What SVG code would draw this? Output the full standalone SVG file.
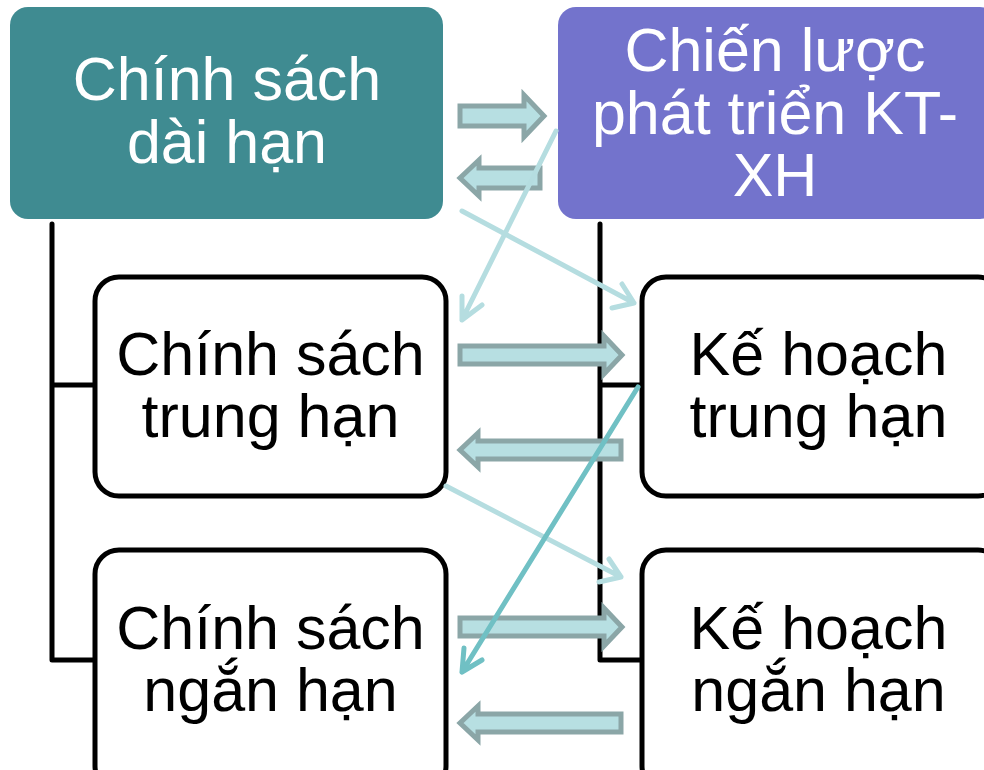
<svg xmlns="http://www.w3.org/2000/svg" width="984" height="770" viewBox="0 0 984 770">
<defs>
<style>
.t{font-family:"Liberation Sans",Arial,sans-serif;font-size:61px;text-anchor:middle}
.w{fill:#ffffff}
.k{fill:#000000}
.box{fill:#ffffff;stroke:#000000;stroke-width:5}
.tree{fill:none;stroke:#000000;stroke-width:5;stroke-linecap:round;stroke-linejoin:round}
.blk{fill:#b7dfe2;stroke:#8ba6a7;stroke-width:5;stroke-linejoin:miter}
.ln{fill:none;stroke:#b5dde0;stroke-width:5;stroke-linecap:round;stroke-linejoin:round}
.ln2{fill:none;stroke:#70c0c4;stroke-width:5;stroke-linecap:round;stroke-linejoin:round}
</style>
</defs>
<g id="connectors">
<path class="tree" d="M52,224 V660 H95 M52,385 H95"/>
<path class="tree" d="M600,224 V660 H642 M600,385 H642"/>
</g>
<g id="n-chinh-sach-dai-han">
<rect x="10" y="7" width="433" height="212" rx="18" fill="#3f8b91"/>
<text class="t w" x="227" y="100">Chính sách</text>
<text class="t w" x="227" y="163">dài hạn</text>
</g>
<g id="n-chien-luoc">
<rect x="558" y="7" width="440" height="212" rx="18" fill="#7373cc"/>
<text class="t w" x="775" y="71">Chiến lược</text>
<text class="t w" x="775" y="134">phát triển KT-</text>
<text class="t w" x="775" y="196">XH</text>
</g>
<g id="n-chinh-sach-trung-han">
<rect class="box" x="95" y="277" width="351" height="219" rx="24"/>
<text class="t k" x="270.5" y="375">Chính sách</text>
<text class="t k" x="270.5" y="437">trung hạn</text>
</g>
<g id="n-chinh-sach-ngan-han">
<rect class="box" x="95" y="550" width="351" height="240" rx="24"/>
<text class="t k" x="270.5" y="649">Chính sách</text>
<text class="t k" x="270.5" y="711">ngắn hạn</text>
</g>
<g id="n-ke-hoach-trung-han">
<rect class="box" x="642" y="277" width="360" height="219" rx="24"/>
<text class="t k" x="818.5" y="375">Kế hoạch</text>
<text class="t k" x="818.5" y="437">trung hạn</text>
</g>
<g id="n-ke-hoach-ngan-han">
<rect class="box" x="642" y="550" width="360" height="240" rx="24"/>
<text class="t k" x="818.5" y="649">Kế hoạch</text>
<text class="t k" x="818.5" y="711">ngắn hạn</text>
</g>
<g id="block-arrows">
<path class="blk" d="M460,106 H524 V95 L544,116 L524,137 V126 H460 Z"/>
<path class="blk" d="M540,168 H479 V160 L460,178 L479,196 V188 H540 Z"/>
<path class="blk" d="M460,346 H604 V336 L622,355 L604,374 V364 H460 Z"/>
<path class="blk" d="M621,441 H478 V433 L460,450 L478,467 V459 H621 Z"/>
<path class="blk" d="M460,618 H604 V608 L622,627 L604,646 V636 H460 Z"/>
<path class="blk" d="M621,714 H478 V706 L460,723 L478,740 V732 H621 Z"/>
</g>
<g id="line-arrows">
<path class="ln" d="M556,131 L462,320 M462,296 L462,320 L482,305"/>
<path class="ln" d="M462,211 L634,303 M612,308 L634,303 L622,284"/>
<path class="ln" d="M446,486 L621,577 M599,582 L621,577 L609,559"/>
<path class="ln2" d="M638,387 L462,672 M464,648 L462,672 L482,660"/>
</g>
</svg>
